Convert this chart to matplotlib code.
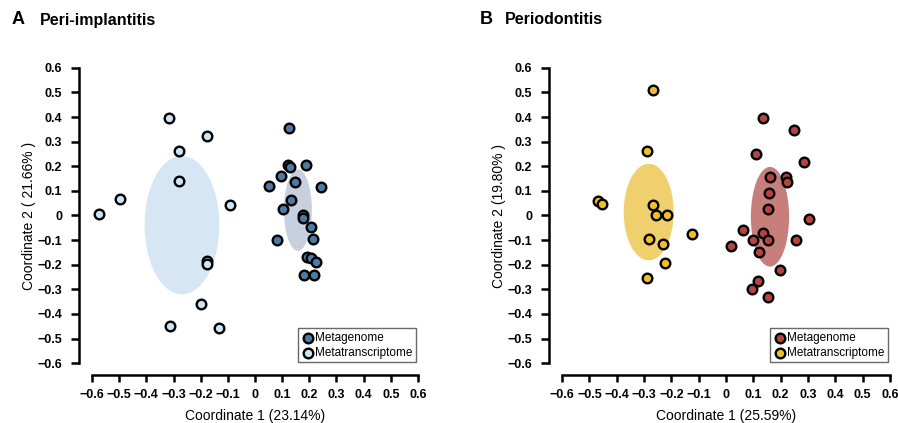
import matplotlib.pyplot as plt
from matplotlib.patches import Ellipse

plt.rcParams['font.family'] = ['Liberation Sans', 'DejaVu Sans']

# Panel A: Peri-implantitis
a_mg_x = [0.127, 0.123, 0.128, 0.187, 0.095, 0.051, 0.149, 0.243, 0.132, 0.103,
          0.175, 0.175, 0.207, 0.082, 0.213, 0.193, 0.205, 0.224, 0.181, 0.217]
a_mg_y = [0.354, 0.204, 0.196, 0.205, 0.159, 0.120, 0.136, 0.117, 0.065, 0.027,
          0.003, -0.011, -0.048, -0.098, -0.095, -0.170, -0.173, -0.188, -0.241, -0.241]
a_mt_x = [-0.317, -0.176, -0.279, -0.278, -0.497, -0.573, -0.093, -0.176, -0.176,
          -0.198, -0.312, -0.134]
a_mt_y = [0.395, 0.324, 0.264, 0.139, 0.068, 0.005, 0.041, -0.184, -0.197,
          -0.361, -0.449, -0.457]
# ellipses: center x, center y, width, height
a_mg_ell = (0.158, 0.022, 0.103, 0.331)
a_mt_ell = (-0.269, -0.039, 0.275, 0.562)

# Panel B: Periodontitis
b_mg_x = [0.136, 0.249, 0.111, 0.286, 0.161, 0.220, 0.224, 0.156, 0.154, 0.304,
          0.064, 0.137, 0.098, 0.152, 0.255, 0.018, 0.121, 0.197, 0.116, 0.095, 0.153]
b_mg_y = [0.398, 0.348, 0.248, 0.217, 0.156, 0.158, 0.137, 0.091, 0.025, -0.014,
          -0.058, -0.070, -0.100, -0.100, -0.100, -0.122, -0.149, -0.223, -0.268,
          -0.300, -0.332]
b_mt_x = [-0.269, -0.289, -0.468, -0.455, -0.267, -0.255, -0.215, -0.126, -0.282,
          -0.229, -0.224, -0.288]
b_mt_y = [0.511, 0.263, 0.057, 0.045, 0.042, 0.004, 0.004, -0.074, -0.096,
          -0.115, -0.193, -0.252]
b_mg_ell = (0.161, -0.005, 0.140, 0.405)
b_mt_ell = (-0.283, 0.014, 0.183, 0.392)

ticks = [-0.6, -0.5, -0.4, -0.3, -0.2, -0.1, 0, 0.1, 0.2, 0.3, 0.4, 0.5, 0.6]


def fmt(v):
    if abs(v) < 1e-9:
        return "0"
    return ("%.1f" % v).replace("-", "\u2212")


def panel(ax, mg_x, mg_y, mt_x, mt_y, mg_ell, mt_ell, mg_col, mt_col,
          mg_ecol, mt_ecol, xlab, ylab):
    for (cx, cy, w, h), c in [(mt_ell, mt_ecol), (mg_ell, mg_ecol)]:
        ax.add_patch(Ellipse((cx, cy), w, h, facecolor=c, edgecolor='none', zorder=1))
    ax.scatter(mt_x, mt_y, s=48, c=mt_col, edgecolors='black', linewidths=1.7,
               zorder=3, label='Metatranscriptome')
    ax.scatter(mg_x, mg_y, s=48, c=mg_col, edgecolors='black', linewidths=1.7,
               zorder=3, label='Metagenome')
    ax.set_xlim(-0.648, 0.648)
    ax.set_ylim(-0.648, 0.648)
    for s in ['top', 'right']:
        ax.spines[s].set_visible(False)
    for s in ['left', 'bottom']:
        ax.spines[s].set_bounds(-0.6, 0.6)
        ax.spines[s].set_linewidth(1.8)
    ax.set_xticks(ticks)
    ax.set_yticks(ticks)
    ax.set_xticklabels([fmt(t) for t in ticks], fontweight='bold', fontsize=9)
    ax.set_yticklabels([fmt(t) for t in ticks], fontweight='bold', fontsize=9)
    ax.tick_params(axis='y', length=6, width=1.8, pad=6)
    ax.tick_params(axis='x', length=5, width=1.8, pad=5)
    ax.set_xlabel(xlab, fontsize=10, labelpad=6)
    ax.set_ylabel(ylab, fontsize=10, labelpad=1)
    h, l = ax.get_legend_handles_labels()
    leg = ax.legend(h[::-1], l[::-1], loc='lower right', bbox_to_anchor=(0.958, 0.04),
                    fontsize=8.5, frameon=True, fancybox=False, handletextpad=0.05,
                    borderpad=0.3, labelspacing=0.25, handlelength=1.1,
                    borderaxespad=0, markerscale=1.0)
    leg.get_frame().set_edgecolor('#444444')
    leg.get_frame().set_linewidth(1.0)


fig = plt.figure(figsize=(8.98, 4.23), dpi=100)
ax1 = fig.add_axes([79 / 898, 48 / 423, 352 / 898, 319 / 423])
ax2 = fig.add_axes([549 / 898, 48 / 423, 354 / 898, 319 / 423])

panel(ax1, a_mg_x, a_mg_y, a_mt_x, a_mt_y, a_mg_ell, a_mt_ell,
      '#4c7ca6', '#cde4f4', '#c8d0df', '#d6e6f4',
      'Coordinate 1 (23.14%)', 'Coordinate 2 ( 21.66% )')
panel(ax2, b_mg_x, b_mg_y, b_mt_x, b_mt_y, b_mg_ell, b_mt_ell,
      '#b5443e', '#efbf27', '#c87f7b', '#f0d06c',
      'Coordinate 1 (25.59%)', 'Coordinate 2 (19.80% )')

fig.text(12 / 898, 1 - 20 / 423, 'A', fontsize=13, fontweight='bold', va='center')
fig.text(40 / 898, 1 - 20 / 423, 'Peri-implantitis', fontsize=11.5, fontweight='bold', va='center')
fig.text(480 / 898, 1 - 20 / 423, 'B', fontsize=13, fontweight='bold', va='center')
fig.text(505 / 898, 1 - 20 / 423, 'Periodontitis', fontsize=11.5, fontweight='bold', va='center')

fig.savefig('out.png', dpi=100)
